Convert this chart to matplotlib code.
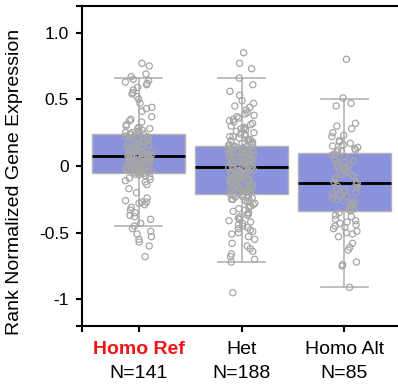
import numpy as np
import matplotlib
matplotlib.use("Agg")
import matplotlib.pyplot as plt
from matplotlib import transforms

categories = ["Homo Ref", "Het", "Homo Alt"]
counts = ["N=141", "N=188", "N=85"]

homo_ref = [
    0.77, 0.75, 0.69, 0.67, 0.65, 0.64, 0.63, 0.62, 0.61, 0.59, 0.57, 0.55,
    0.54, 0.52, 0.50, 0.47, 0.44, 0.43, 0.41, 0.37, 0.35, 0.34, 0.33, 0.31,
    0.30, 0.29, 0.28, 0.28, 0.27, 0.26, 0.26, 0.25, 0.25, 0.24, 0.24,
    0.235, 0.231, 0.224, 0.219, 0.212, 0.208, 0.203, 0.196, 0.192, 0.184,
    0.181, 0.176, 0.169, 0.163, 0.158, 0.152, 0.147, 0.143, 0.136, 0.131,
    0.127, 0.121, 0.116, 0.112, 0.107, 0.103, 0.098, 0.094, 0.091, 0.088,
    0.086, 0.083, 0.081, 0.079, 0.077, 0.075,
    0.072, 0.069, 0.066, 0.062, 0.058, 0.055, 0.051, 0.047, 0.044, 0.041,
    0.037, 0.033, 0.029, 0.026, 0.021, 0.018, 0.014, 0.011, 0.006, 0.003,
    -0.002, -0.005, -0.009, -0.013, -0.016, -0.019, -0.023, -0.026, -0.030,
    -0.033, -0.037, -0.040, -0.043, -0.046, -0.048,
    -0.052, -0.056, -0.061, -0.067, -0.074, -0.08, -0.09, -0.10, -0.11,
    -0.12, -0.14, -0.17, -0.20, -0.24, -0.26, -0.27, -0.27, -0.28, -0.29,
    -0.31, -0.33, -0.35, -0.37, -0.38, -0.40, -0.43, -0.45, -0.47, -0.49,
    -0.51, -0.53, -0.55, -0.57, -0.60, -0.68,
]

het = [
    0.85, 0.77, 0.73, 0.66, 0.61, 0.56, 0.53, 0.49, 0.47, 0.45, 0.44, 0.42,
    0.40, 0.39, 0.38, 0.37, 0.36, 0.35, 0.34, 0.33, 0.32, 0.31, 0.30, 0.29,
    0.28, 0.28, 0.27, 0.26, 0.25, 0.24, 0.24, 0.23, 0.22, 0.22, 0.21, 0.20,
    0.20, 0.19, 0.19, 0.18, 0.18, 0.17, 0.17, 0.16, 0.16, 0.155, 0.152,
    0.148, 0.145, 0.141, 0.137, 0.135, 0.131, 0.127, 0.124, 0.120, 0.117,
    0.114, 0.110, 0.107, 0.104, 0.100, 0.096, 0.093, 0.090, 0.086, 0.082,
    0.079, 0.076, 0.073, 0.069, 0.066, 0.062, 0.058, 0.055, 0.052, 0.048,
    0.045, 0.041, 0.038, 0.034, 0.031, 0.027, 0.024, 0.021, 0.017, 0.014,
    0.010, 0.007, 0.004, 0.001, -0.003, -0.006, -0.008,
    -0.013, -0.017, -0.021, -0.025, -0.029, -0.033, -0.036, -0.040, -0.044,
    -0.048, -0.052, -0.056, -0.060, -0.064, -0.068, -0.072, -0.076, -0.080,
    -0.084, -0.088, -0.092, -0.096, -0.100, -0.104, -0.108, -0.112, -0.116,
    -0.120, -0.124, -0.128, -0.132, -0.136, -0.140, -0.145, -0.149, -0.153,
    -0.157, -0.161, -0.165, -0.169, -0.173, -0.178, -0.182, -0.187, -0.192,
    -0.197, -0.203, -0.207,
    -0.215, -0.22, -0.22, -0.23, -0.23, -0.24, -0.24, -0.25, -0.25, -0.26,
    -0.26, -0.27, -0.28, -0.29, -0.30, -0.31, -0.32, -0.33, -0.34, -0.35,
    -0.36, -0.37, -0.38, -0.39, -0.40, -0.41, -0.42, -0.43, -0.44, -0.45,
    -0.46, -0.47, -0.48, -0.49, -0.50, -0.51, -0.53, -0.55, -0.58, -0.60,
    -0.62, -0.64, -0.66, -0.68, -0.70, -0.72, -0.95,
]

homo_alt = [
    0.80, 0.51, 0.47, 0.45, 0.32, 0.30, 0.28, 0.25, 0.23, 0.22, 0.19, 0.18,
    0.17, 0.16, 0.15, 0.14, 0.13, 0.12, 0.12, 0.11, 0.105,
    0.09, 0.08, 0.07, 0.06, 0.05, 0.04, 0.03, 0.02, 0.01, 0.00, -0.01,
    -0.02, -0.03, -0.04, -0.05, -0.06, -0.07, -0.08, -0.09, -0.10, -0.12,
    -0.13,
    -0.14, -0.15, -0.16, -0.17, -0.18, -0.19, -0.20, -0.21, -0.22, -0.23,
    -0.24, -0.25, -0.26, -0.27, -0.28, -0.29, -0.30, -0.31, -0.32, -0.33,
    -0.335,
    -0.35, -0.37, -0.38, -0.40, -0.41, -0.42, -0.43, -0.44, -0.45, -0.46,
    -0.47, -0.49, -0.50, -0.51, -0.53, -0.58, -0.61, -0.63, -0.72, -0.74,
    -0.75, -0.91,
]

# box statistics
box_q1 = [-0.05, -0.21, -0.34]
box_med = [0.075, -0.01, -0.13]
box_q3 = [0.24, 0.15, 0.10]
box_wlo = [-0.45, -0.72, -0.91]
box_whi = [0.66, 0.66, 0.50]

yticks = [-1.2, -1.0, -0.5, 0.0, 0.5, 1.0, 1.2]
yticklabels = ["", "-1", "-0.5", "0", "0.5", "1.0", ""]

plt.rcParams['font.family'] = ['Liberation Sans', 'DejaVu Sans']

W, H = 398, 386
fig = plt.figure(figsize=(W / 100, H / 100), dpi=100)
ax = fig.add_axes([82 / W, 1 - 326 / H, 319 / W, 320 / H])

stats = []
for i in range(3):
    stats.append(dict(med=box_med[i], q1=box_q1[i], q3=box_q3[i],
                      whislo=box_wlo[i], whishi=box_whi[i], fliers=[]))

grey = '#b4b4b4'
ax.bxp(stats, positions=range(3), widths=0.9, capwidths=0.45,
       showfliers=False, patch_artist=True,
       boxprops=dict(facecolor='#8a92de', edgecolor=grey, linewidth=1.0),
       whiskerprops=dict(color=grey, linewidth=1.2),
       capprops=dict(color=grey, linewidth=1.2),
       medianprops=dict(color='black', linewidth=2.0),
       zorder=1)

rng = np.random.default_rng(7)
for i, vals in enumerate([homo_ref, het, homo_alt]):
    vals = np.asarray(vals)
    xj = i + rng.uniform(-0.13, 0.13, size=len(vals))
    ax.scatter(xj, vals, s=20, facecolors='none', edgecolors='#a6a6a6',
               linewidths=0.9, zorder=3)

ax.set_xlim(-0.55, 2.55)
ax.set_ylim(-1.2, 1.2)
ax.set_xticks([-0.55, 0, 1, 2, 2.55])
ax.set_xticklabels([])
ax.set_yticks(yticks)
ax.set_yticklabels(yticklabels, fontsize=12.5)
ax.tick_params(axis='both', direction='out', length=4.5, width=1.5,
               colors='black', pad=5)
for sp in ax.spines.values():
    sp.set_linewidth(1.5)
    sp.set_color('black')

fig.text(14.5 / W, 1 - 182 / H, "Rank Normalized Gene Expression",
         rotation=90, ha='center', va='center', fontsize=14)

trans = transforms.blended_transform_factory(ax.transData, fig.transFigure)
for i, (c, n) in enumerate(zip(categories, counts)):
    if i == 0:
        ax.text(i, 1 - 354 / H, c, transform=trans, ha='center', va='baseline',
                fontsize=14, color='#f01414', fontweight='bold')
    else:
        ax.text(i, 1 - 354 / H, c, transform=trans, ha='center', va='baseline',
                fontsize=14, color='black')
    ax.text(i, 1 - 378 / H, n, transform=trans, ha='center', va='baseline',
            fontsize=14, color='black')

fig.savefig("out.png", dpi=100)
